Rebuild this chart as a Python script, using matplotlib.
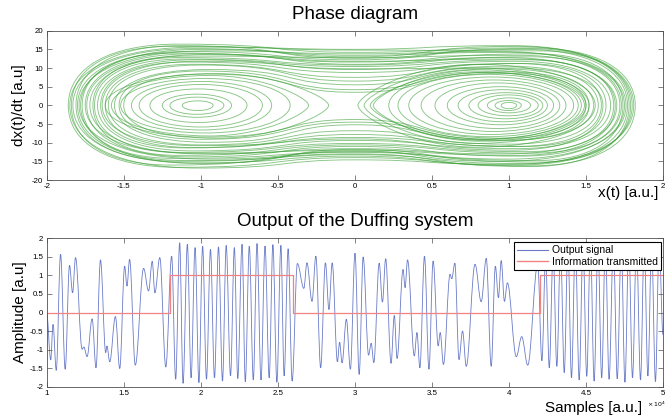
import matplotlib
matplotlib.use("Agg")
import matplotlib.pyplot as plt
from matplotlib.path import Path
from matplotlib.patches import PathPatch
from matplotlib.lines import Line2D
from matplotlib.ticker import FuncFormatter, MultipleLocator

plt.rcParams['font.family'] = ['Liberation Sans', 'DejaVu Sans']

# ---------------------------------------------------------------------------
# Output signal, given by its successive turning points
# (sample index in units of 1e4, amplitude)
# ---------------------------------------------------------------------------
sig_samples = [
    1.000, 1.026, 1.041, 1.062, 1.090, 1.120, 1.148, 1.168, 1.187, 1.230,
    1.241, 1.262, 1.295, 1.320, 1.349, 1.383, 1.391, 1.409, 1.446, 1.474,
    1.506, 1.521, 1.538, 1.575, 1.629, 1.661, 1.685, 1.702, 1.734, 1.773,
    1.811, 1.837, 1.863, 1.885, 1.913, 1.937, 1.963, 1.988, 2.012, 2.037,
    2.063, 2.089, 2.115, 2.141, 2.165, 2.193, 2.218, 2.240, 2.268, 2.289,
    2.315, 2.341, 2.365, 2.391, 2.417, 2.444, 2.468, 2.494, 2.520, 2.541,
    2.567, 2.593, 2.627, 2.669, 2.689, 2.722, 2.747, 2.778, 2.809, 2.832,
    2.853, 2.887, 2.901, 2.917, 2.945, 2.971, 3.001, 3.028, 3.054, 3.089,
    3.106, 3.123, 3.158, 3.179, 3.200, 3.235, 3.256, 3.274, 3.313, 3.326,
    3.342, 3.386, 3.403, 3.422, 3.452, 3.481, 3.508, 3.541, 3.554, 3.575,
    3.618, 3.629, 3.649, 3.676, 3.699, 3.723, 3.780, 3.820, 3.853, 3.885,
    3.912, 3.932, 3.950, 3.971, 3.990, 4.048, 4.083, 4.122, 4.187, 4.214,
    4.238, 4.262, 4.287, 4.311, 4.335, 4.359, 4.383, 4.406, 4.431, 4.456,
    4.481, 4.505, 4.529, 4.553, 4.578, 4.602, 4.626, 4.650, 4.678, 4.703,
    4.729, 4.753, 4.778, 4.802, 4.828, 4.854, 4.878, 4.902, 4.926, 4.951,
    4.975, 5.000,
]
sig_values = [
    -0.02, -1.28, -0.32, -1.56, 1.57, -1.53, 1.27, 0.53, 1.48, -0.99,
    -0.93, -1.19, -0.17, -1.49, 1.42, -1.08, -0.90, -1.33, -0.11, -1.51,
    1.25, 0.71, 1.43, -1.42, 1.19, 0.58, 1.38, 0.53, 1.48, -1.47,
    1.52, -1.80, 1.88, -1.91, 1.84, -1.76, 1.75, -1.89, 1.79, -1.80,
    1.70, -1.76, 1.77, -1.85, 1.81, -1.71, 1.75, -1.78, 1.84, -1.87,
    1.79, -1.82, 1.86, -1.82, 1.79, -1.76, 1.83, -1.88, 1.81, -1.71,
    1.72, -1.85, 1.32, 0.65, 1.34, 0.30, 1.52, -1.49, 1.34, 0.08,
    1.34, -1.33, -0.80, -1.36, -0.18, -1.53, 1.60, -1.67, 1.50, -1.15,
    -0.83, -1.35, 1.33, 0.28, 1.45, -1.37, -0.08, -1.24, 1.16, 0.67,
    1.42, -1.17, -0.54, -1.49, 1.52, -1.53, 1.39, -0.90, -0.54, -1.40,
    1.03, 0.91, 1.33, -1.27, -0.50, -1.45, 1.30, 0.29, 1.46, -1.45,
    1.25, 0.40, 1.40, 0.30, 0.80, -1.19, -0.65, -1.42, 1.30, -1.30,
    1.50, -1.49, 1.65, -1.45, 1.75, -1.62, 1.80, -1.76, 1.85, -1.82,
    1.85, -1.72, 1.85, -1.85, 1.85, -1.76, 1.85, -1.80, 1.85, -1.79,
    1.85, -1.88, 1.85, -1.76, 1.85, -1.82, 1.85, -1.71, 1.85, -1.86,
    1.85, -0.60,
]

# Transmitted information (binary level held between switching instants)
bit_edges = [1.0, 1.8, 2.6, 4.2, 5.0]
bit_levels = [0, 1, 0, 1, 1]

# ---------------------------------------------------------------------------
# Phase portrait orbits, described by their turning points
# ---------------------------------------------------------------------------
# orbits enclosing both wells
dw_x_right = [1.82, 1.80, 1.79, 1.77, 1.76, 1.74, 1.72, 1.70, 1.68, 1.81, 1.78,
              1.75, 1.66, 1.63, 1.58, 1.55, 1.52, 1.60, 1.50, 1.61, 1.73, 1.69]
dw_x_left = [-1.86, -1.83, -1.84, -1.80, -1.78, -1.77, -1.74, -1.72, -1.69,
             -1.85, -1.81, -1.79, -1.67, -1.65, -1.60, -1.56, -1.53, -1.62,
             -1.50, -1.64, -1.70, -1.75]
dw_hump_x = [1.15, 1.05, 1.20, 1.10, 1.00, 1.18, 1.08, 0.98, 1.12, 1.02, 1.14,
             0.95, 1.05, 1.10, 1.00, 0.95, 1.00, 1.05, 0.98, 1.02, 1.15, 1.06]
dw_v_top_right = [15.4, 15.8, 14.6, 15.0, 14.2, 13.8, 13.4, 12.8, 12.2, 16.0,
                  15.2, 14.4, 11.8, 11.2, 10.5, 9.8, 9.0, 11.2, 8.6, 10.0,
                  13.0, 12.4]
dw_v_top_mid = [14.2, 13.0, 14.8, 12.2, 13.4, 11.6, 12.8, 11.0, 10.4, 15.0,
                12.6, 13.8, 9.6, 8.8, 6.5, 5.5, 4.2, 7.5, 3.5, 9.8, 10.8, 11.8]
dw_v_top_left = [16.4, 15.2, 15.8, 14.4, 15.0, 14.0, 13.2, 13.6, 12.4, 15.6,
                 16.0, 14.6, 12.2, 11.6, 10.8, 9.6, 9.2, 11.0, 8.4, 11.8,
                 12.8, 13.8]
dw_v_bot_left = [-16.6, -15.4, -16.0, -14.8, -15.6, -14.2, -13.8, -13.0, -12.6,
                 -16.8, -15.0, -14.4, -12.2, -11.4, -10.6, -9.9, -9.1, -11.3,
                 -8.5, -10.8, -13.4, -12.8]
dw_v_bot_mid = [-14.0, -13.6, -12.4, -13.2, -11.8, -12.6, -11.0, -11.6, -10.2,
                -14.6, -13.0, -12.2, -9.4, -8.6, -6.8, -5.2, -4.5, -7.8, -3.8,
                -9.0, -10.6, -12.0]
dw_v_bot_right = [-16.2, -16.0, -15.2, -15.6, -14.4, -14.8, -13.6, -13.0, -12.4,
                  -15.8, -16.4, -15.0, -11.6, -11.0, -10.4, -9.5, -9.3, -11.0,
                  -8.8, -12.0, -12.8, -13.4]

# orbits trapped in the right well
rw_x_left = [0.06, 0.12, 0.22, 0.28, 0.35, 0.43, 0.52, 0.60, 0.67, 0.74,
             0.80, 0.86, 0.91, 0.95, 0.02, 0.10]
rw_x_right = [1.52, 1.50, 1.47, 1.45, 1.42, 1.37, 1.33, 1.29, 1.25, 1.22,
              1.19, 1.14, 1.08, 1.05, 1.56, 1.49]
rw_v_top = [10.0, 9.5, 8.8, 8.3, 7.6, 6.8, 6.0, 5.0, 4.2, 3.4,
            2.8, 2.0, 1.3, 0.8, 11.0, 9.0]
rw_v_bot = [-10.2, -9.6, -9.0, -8.4, -7.8, -7.0, -6.2, -5.2, -4.4, -3.6,
            -2.8, -2.0, -1.4, -0.9, -11.2, -9.2]

# orbits trapped in the left well
lw_x_left = [-1.62, -1.58, -1.52, -1.45, -1.40, -1.33, -1.25, -1.20, -1.12]
lw_x_right = [-0.17, -0.30, -0.42, -0.54, -0.60, -0.70, -0.80, -0.85, -0.92]
lw_v_top = [8.5, 8.0, 7.2, 6.4, 5.6, 4.4, 3.0, 2.2, 1.2]
lw_v_bot = [-8.8, -8.2, -7.4, -6.6, -5.8, -4.6, -3.2, -2.4, -1.4]


def turning_point_path(xs, ys, k=0.36):
    """Smooth curve through turning points (zero slope at each one)."""
    verts = [(xs[0], ys[0])]
    codes = [Path.MOVETO]
    for i in range(len(xs) - 1):
        dx = xs[i + 1] - xs[i]
        verts += [(xs[i] + k * dx, ys[i]), (xs[i + 1] - k * dx, ys[i + 1]),
                  (xs[i + 1], ys[i + 1])]
        codes += [Path.CURVE4] * 3
    return Path(verts, codes)


def orbit_path(points):
    """Closed orbit through (x, v, tangent, kappa) points.

    tangent 'v': vertical (v = 0 crossing), 'h': horizontal (extremum of v).
    """
    verts = [(points[0][0], points[0][1])]
    codes = [Path.MOVETO]
    n = len(points)
    for i in range(n):
        ax_, ay_, at, ak = points[i]
        bx, by, bt, bk = points[(i + 1) % n]
        if at == 'v':
            c1 = (ax_, ay_ + ak * (by - ay_))
        else:
            c1 = (ax_ + ak * (bx - ax_), ay_)
        if bt == 'v':
            c2 = (bx, by + bk * (ay_ - by))
        else:
            c2 = (bx + bk * (ax_ - bx), by)
        verts += [c1, c2, (bx, by)]
        codes += [Path.CURVE4] * 3
    return Path(verts, codes)


GREEN = '#3a9f35'
BLUE = '#6a7bc8'
RED = '#f08282'
SPINE = '#505050'

W, H = 666, 418
fig = plt.figure(figsize=(W / 100, H / 100), dpi=100)
left_px, right_px = 46.7, 663.0
ax1 = fig.add_axes([left_px / W, 1 - 180.0 / H, (right_px - left_px) / W,
                    (180.0 - 30.7) / H])
ax2 = fig.add_axes([left_px / W, 1 - 386.7 / H, (right_px - left_px) / W,
                    (386.7 - 238.3) / H])

# ---- phase diagram ----
green_kw = dict(fill=False, edgecolor=GREEN, lw=0.65, alpha=0.6)
for i in range(len(dw_x_right)):
    xr, xl, hx = dw_x_right[i], dw_x_left[i], dw_hump_x[i]
    pts = [(xr, 0, 'v', 0.62), (hx, dw_v_top_right[i], 'h', 0.62),
           (0, dw_v_top_mid[i], 'h', 0.5), (-hx, dw_v_top_left[i], 'h', 0.62),
           (xl, 0, 'v', 0.62), (-hx, dw_v_bot_left[i], 'h', 0.62),
           (0, dw_v_bot_mid[i], 'h', 0.5), (hx, dw_v_bot_right[i], 'h', 0.62)]
    ax1.add_patch(PathPatch(orbit_path(pts), **green_kw))

for i in range(len(rw_x_left)):
    xl, xr = rw_x_left[i], rw_x_right[i]
    xc = 0.5 * (xl + xr)
    tip = 0.25 if xl < 0.15 else 0.55
    pts = [(xr, 0, 'v', 0.58), (xc, rw_v_top[i], 'h', 0.55),
           (xl, 0, 'v', tip), (xc, rw_v_bot[i], 'h', 0.55)]
    ax1.add_patch(PathPatch(orbit_path(pts), **green_kw))

for i in range(len(lw_x_left)):
    xl, xr = lw_x_left[i], lw_x_right[i]
    xc = 0.5 * (xl + xr)
    tip = 0.25 if xr > -0.35 else 0.55
    pts = [(xr, 0, 'v', tip), (xc, lw_v_top[i], 'h', 0.55),
           (xl, 0, 'v', 0.58), (xc, lw_v_bot[i], 'h', 0.55)]
    ax1.add_patch(PathPatch(orbit_path(pts), **green_kw))

ax1.set_xlim(-2, 2)
ax1.set_ylim(-20, 20)
ax1.xaxis.set_major_locator(MultipleLocator(0.5))
ax1.yaxis.set_major_locator(MultipleLocator(5))
ax1.set_title('Phase diagram', fontsize=13.5, pad=8.5)
ax1.set_ylabel('dx(t)/dt [a.u]', fontsize=11)
ax1.yaxis.set_label_coords(-0.034, 0.5)
fig.text(658 / W, 1 - 197.5 / H, 'x(t) [a.u.]', fontsize=11,
         ha='right', va='baseline')

# ---- output of the Duffing system ----
ax2.add_patch(PathPatch(turning_point_path(sig_samples, sig_values),
                        fill=False, edgecolor=BLUE, lw=0.6))
ax2.step(bit_edges, bit_levels, where='post', color=RED, lw=0.9)
ax2.set_xlim(1, 5)
ax2.set_ylim(-2, 2)
ax2.xaxis.set_major_locator(MultipleLocator(0.5))
ax2.yaxis.set_major_locator(MultipleLocator(0.5))
ax2.set_title('Output of the Duffing system', fontsize=13.5, pad=8.5)
ax2.set_ylabel('Amplitude [a.u]', fontsize=11)
ax2.yaxis.set_label_coords(-0.032, 0.5)
fig.text(641.7 / W, 1 - 411.8 / H, 'Samples [a.u.]', fontsize=11,
         ha='right', va='baseline')
fig.text(647 / W, 1 - 404.0 / H, r'$\times\,10^4$', fontsize=4.5,
         ha='left', va='center')

handles = [Line2D([], [], color=BLUE, lw=0.8), Line2D([], [], color=RED, lw=1.0)]
leg = ax2.legend(handles, ['Output signal', 'Information transmitted'],
                 loc='upper right', bbox_to_anchor=(661.0 / W, 1 - 242.3 / H),
                 bbox_transform=fig.transFigure, fontsize=7.5, frameon=True,
                 fancybox=False, edgecolor='black', framealpha=1,
                 borderaxespad=0, handlelength=3.0, handletextpad=0.35,
                 labelspacing=0.15, borderpad=0.3)
leg.get_frame().set_linewidth(0.8)

fmt = FuncFormatter(lambda v, p: '%g' % v)
for ax in (ax1, ax2):
    ax.xaxis.set_major_formatter(fmt)
    ax.yaxis.set_major_formatter(fmt)
    ax.tick_params(direction='in', length=3.6, width=0.5, top=True,
                   right=True, labelsize=5.7, pad=2.5, color=SPINE)
    for s in ax.spines.values():
        s.set_linewidth(0.6)
        s.set_color(SPINE)

fig.savefig('out.png', dpi=100)
